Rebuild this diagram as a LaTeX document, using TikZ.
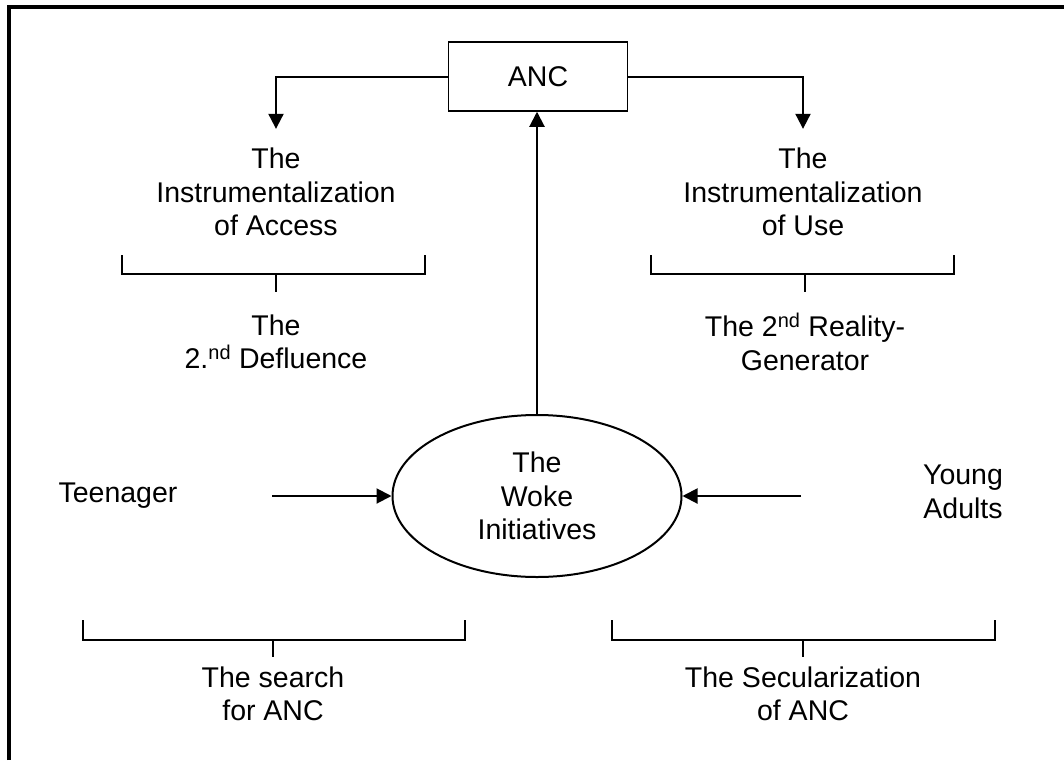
\documentclass[tikz,border=0pt]{standalone}
\usepackage{fontspec}
\setmainfont{Liberation Sans}
\usetikzlibrary{positioning}
\usetikzlibrary{shapes.geometric}
\usetikzlibrary{arrows.meta}

\tikzset{
  lbl/.style={align=center, inner sep=0pt, font=\fontsize{28.5}{33.5}\selectfont},
  arr/.style={line width=2pt, -{Triangle[length=15pt,width=15pt]}},
  bracket/.style={line width=1.5pt},
}

\begin{document}
\begin{tikzpicture}[x=1pt,y=-1pt]
        \useasboundingbox (0,0) rectangle (1064,760);
        \draw[line width=4pt] (8.7,760) -- (8.7,7) -- (1064,7);

        \node[draw, line width=1.5pt, minimum width=179pt, minimum height=69pt, lbl] (anc) at (538,76.5) {ANC};
        \node[ellipse, draw, line width=2pt, minimum width=289pt, minimum height=162pt, lbl] (woke) at (537,496) {The\\Woke\\Initiatives};

        \node[lbl] (access) at (276,192) {The\\Instrumentalization\\of Access};
        \node[lbl] (use) at (803,192) {The\\Instrumentalization\\of Use};
        \node[lbl] (defl) at (276,342) {The\\2.\textsuperscript{nd} Defluence};
        \node[lbl] (realgen) at (805,342) {The 2\textsuperscript{nd} Reality-\\Generator};
        \node[lbl] (teen) at (118,496) {Teenager};
        \node[lbl] (young) at (963,492) {Young\\Adults};
        \node[lbl] (search) at (273,694) {The search\\for ANC};
        \node[lbl] (secul) at (803,694) {The Secularization\\of ANC};

        \coordinate (teenout) at (272,496);
        \coordinate (youngout) at (801,496);

        \draw[arr] (anc.west) -| ([yshift=19pt]access.north);
        \draw[arr] (anc.east) -| ([yshift=19pt]use.north);
        \draw[arr] (woke.north) -- (woke.north |- anc.south);
        \draw[arr] (teenout) -- (woke.west);
        \draw[arr] (youngout) -- (woke.east);

        % brackets
        \draw[bracket] (122,255) -- (122,274) -- (425,274) -- (425,255);
        \draw[bracket] (276,274) -- (276,292);
        \draw[bracket] (651,255) -- (651,274) -- (954,274) -- (954,255);
        \draw[bracket] (805,274) -- (805,292);
        \draw[bracket] (83,620) -- (83,640) -- (465,640) -- (465,620);
        \draw[bracket] (273,640) -- (273,657);
        \draw[bracket] (612,620) -- (612,640) -- (995,640) -- (995,620);
        \draw[bracket] (803,640) -- (803,657);
\end{tikzpicture}
\end{document}
